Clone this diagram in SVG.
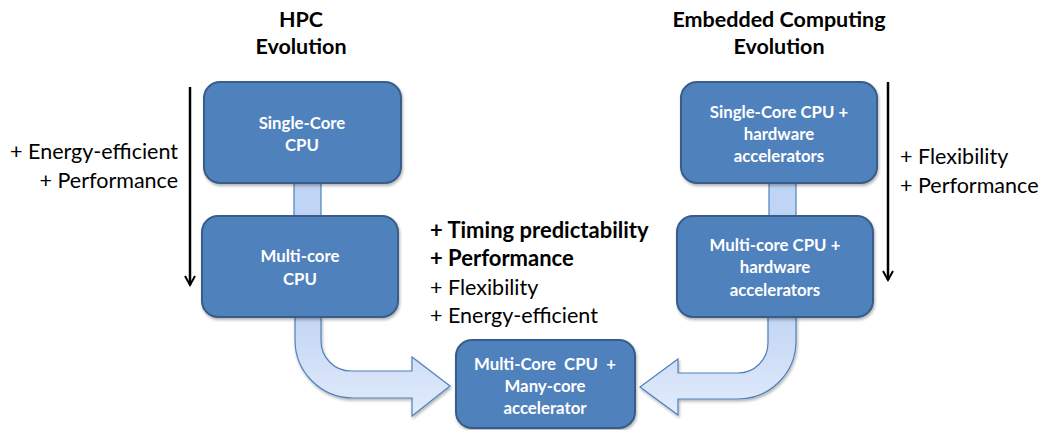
<svg xmlns="http://www.w3.org/2000/svg" width="1043" height="430" viewBox="0 0 1043 430">
<defs>
<linearGradient id="g1" x1="0" y1="0" x2="0" y2="1">
<stop offset="0" stop-color="#c3d6f4"/>
<stop offset="1" stop-color="#e2ebfb"/>
</linearGradient>
<marker id="ah" viewBox="0 0 12 12" refX="10" refY="6" markerWidth="12" markerHeight="12" markerUnits="userSpaceOnUse" orient="auto">
<path d="M1,1 L10,6 L1,11" fill="none" stroke="#000" stroke-width="2"/>
</marker>
<filter id="sh" x="-10%" y="-10%" width="125%" height="130%">
<feGaussianBlur in="SourceAlpha" stdDeviation="1.5"/>
<feOffset dx="1" dy="2"/>
<feComponentTransfer><feFuncA type="linear" slope="0.3"/></feComponentTransfer>
<feMerge><feMergeNode/><feMergeNode in="SourceGraphic"/></feMerge>
</filter>
</defs>
<style>
.box{fill:#4f81bd;stroke:#385d8a;stroke-width:2;filter:url(#sh)}
.bt{font-family:Lato,"Liberation Sans",sans-serif;font-weight:bold;font-size:16.8px;fill:#fff;text-anchor:middle}
.link{fill:#c0d5f5;stroke:#4f81bd;stroke-width:1.2}
.flow{fill:url(#g1);stroke:#4f81bd;stroke-width:1.2;filter:url(#sh)}
.t{font-family:Lato,"Liberation Sans",sans-serif;font-size:21.5px;fill:#000}
.h{font-family:Lato,"Liberation Sans",sans-serif;font-size:21.5px;font-weight:bold;fill:#000;text-anchor:middle}
.b{font-weight:bold;font-size:22px}
.ar{stroke:#000;stroke-width:2.5;fill:none}
</style>

<g id="titles">
<text class="h" x="301" y="27">HPC</text>
<text class="h" x="301" y="54">Evolution</text>
<text class="h" x="779" y="27">Embedded Computing</text>
<text class="h" x="779" y="54">Evolution</text>
</g>

<g id="connectors">
<rect class="link" x="294" y="183" width="27" height="34"/>
<rect class="link" x="769" y="183" width="27" height="34"/>
<path class="flow" d="M295,317 L295,340 A58,58 0 0 0 353,398 L412,398 L412,416 L450,386 L412,357 L412,371 L351,371 A30,30 0 0 1 321,341 L321,317 Z"/>
<path class="flow" d="M768,317 L768,343 A30,30 0 0 1 738,373 L678,373 L678,359 L640,387 L678,415 L678,399 L738,399 A58,58 0 0 0 796,341 L796,317 Z"/>
<line class="ar" x1="190" y1="87" x2="190" y2="285" marker-end="url(#ah)"/>
<line class="ar" x1="888" y1="82" x2="888" y2="280" marker-end="url(#ah)"/>
</g>

<g id="n1">
<rect class="box" x="204" y="82" width="197" height="101" rx="16"/>
<text class="bt" x="302" y="129">Single-Core</text>
<text class="bt" x="302" y="151">CPU</text>
</g>
<g id="n2">
<rect class="box" x="202" y="216" width="196" height="101" rx="16"/>
<text class="bt" x="300" y="262">Multi-core</text>
<text class="bt" x="300" y="285">CPU</text>
</g>
<g id="n3">
<rect class="box" x="681" y="82" width="196" height="101" rx="16"/>
<text class="bt" x="779" y="118">Single-Core CPU +</text>
<text class="bt" x="779" y="140">hardware</text>
<text class="bt" x="779" y="162">accelerators</text>
</g>
<g id="n4">
<rect class="box" x="677" y="216" width="196" height="101" rx="16"/>
<text class="bt" x="775" y="251">Multi-core CPU +</text>
<text class="bt" x="775" y="273">hardware</text>
<text class="bt" x="775" y="296">accelerators</text>
</g>
<g id="n5">
<rect class="box" x="456" y="340" width="179" height="88" rx="16"/>
<text class="bt" x="545" y="370" xml:space="preserve">Multi-Core  CPU  +</text>
<text class="bt" x="545" y="392">Many-core</text>
<text class="bt" x="545" y="414">accelerator</text>
</g>

<g id="labels">
<text class="t" x="178" y="159" text-anchor="end">+ Energy-efficient</text>
<text class="t" x="178" y="188" text-anchor="end">+ Performance</text>
<text class="t" x="900" y="164">+ Flexibility</text>
<text class="t" x="900" y="193">+ Performance</text>
<text class="t b" x="430" y="238">+ Timing predictability</text>
<text class="t b" x="430" y="266">+ Performance</text>
<text class="t" x="430" y="295">+ Flexibility</text>
<text class="t" x="430" y="323">+ Energy-efficient</text>
</g>
</svg>
